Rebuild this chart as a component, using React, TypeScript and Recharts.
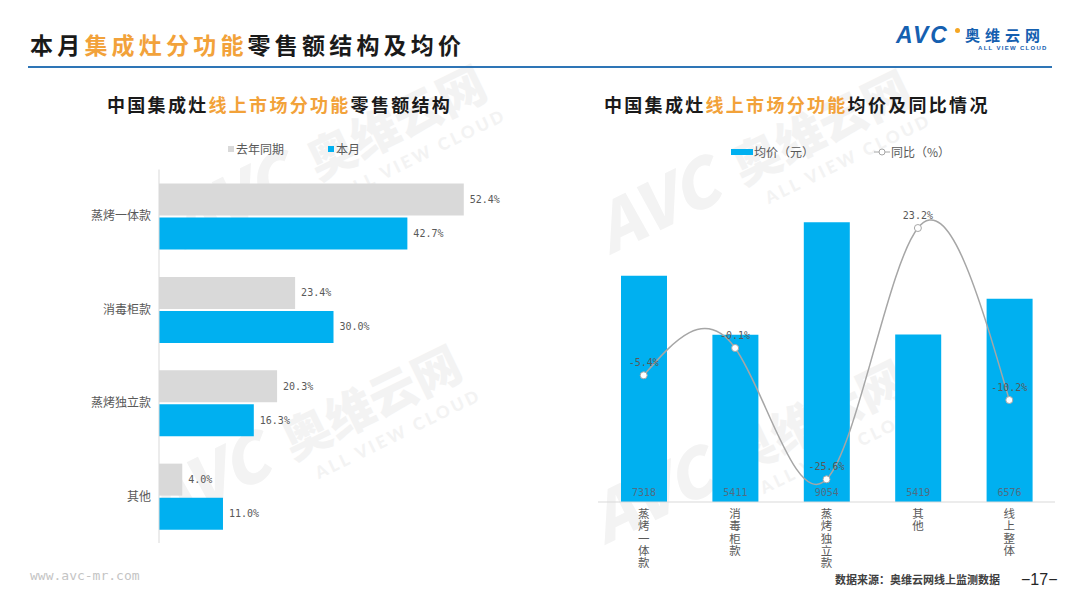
import React from 'react'
import {
  BarChart, Bar, XAxis, YAxis, LabelList, ComposedChart, Line,
} from 'recharts'

// 零售额结构（%）
const shareCategories = ['蒸烤一体款', '消毒柜款', '蒸烤独立款', '其他']
const lastYearShare = [52.4, 23.4, 20.3, 4.0]
const thisMonthShare = [42.7, 30.0, 16.3, 11.0]

// 均价（元）及同比（%）
const priceCategories = ['蒸烤一体款', '消毒柜款', '蒸烤独立款', '其他', '线上整体']
const avgPrice = [7318, 5411, 9054, 5419, 6576]
const yoyPct = [-5.4, -0.1, -25.6, 23.2, -10.2]

const BLUE = '#00b0f0'
const GREY = '#d9d9d9'
const ORANGE = '#f2a23a'
const TEXT = '#595959'
const CJK = '"Noto Sans CJK SC", "Noto Sans", sans-serif'
const MONO = '"DejaVu Sans Mono", "Liberation Mono", monospace'

const shareData = shareCategories.map((name, i) => ({
  name,
  lastYear: lastYearShare[i],
  thisMonth: thisMonthShare[i],
}))

const priceData = priceCategories.map((name, i) => ({
  name,
  price: avgPrice[i],
  yoy: yoyPct[i],
}))

const pct = (v: any) => `${Number(v).toFixed(1)}%`

// x轴标签竖排
function VerticalTick({ x, y, payload }: any) {
  return (
    <text
      x={x}
      y={y - 2}
      fill={TEXT}
      fontSize={11.5}
      fontFamily={CJK}
      letterSpacing={0.8}
      style={{ writingMode: 'vertical-rl' }}
    >
      {payload.value}
    </text>
  )
}

function Watermark({ x, y }: { x: number; y: number }) {
  return (
    <g transform={`translate(${x},${y}) rotate(-26)`} fill="#f3f3f3" fontFamily={CJK} fontWeight={900}>
      <text x={0} y={0} fontSize={66} fontStyle="italic">AVC</text>
      <text x={150} y={-4} fontSize={48}>奥维云网</text>
      <text x={165} y={24} fontSize={17} letterSpacing={3} fontFamily="Lato, sans-serif">ALL VIEW CLOUD</text>
    </g>
  )
}

export default function App() {
  return (
    <div style={{ position: 'absolute', left: 0, top: 0, width: 1080, height: 607, background: '#fff', overflow: 'hidden', fontFamily: CJK }}>
      {/* 水印 */}
      <svg width={1080} height={607} style={{ position: 'absolute', left: 0, top: 0 }}>
        <Watermark x={185} y={250} />
        <Watermark x={160} y={530} />
        <Watermark x={610} y={255} />
        <Watermark x={605} y={545} />
      </svg>

      {/* 页眉 */}
      <div style={{ position: 'absolute', left: 30, top: 33, fontSize: 23, fontWeight: 700, letterSpacing: 4.2, lineHeight: 1, color: '#1a1a1a', whiteSpace: 'nowrap' }}>
        本月<span style={{ color: ORANGE }}>集成灶分功能</span>零售额结构及均价
      </div>
      <div style={{ position: 'absolute', left: 28, top: 66, width: 1024, height: 2, background: '#2e75b6' }} />
      <div style={{ position: 'absolute', left: 896, top: 24, fontFamily: '"Liberation Sans", Arial, sans-serif', fontSize: 23, fontWeight: 900, fontStyle: 'italic', letterSpacing: 2, color: '#1560b0', lineHeight: 1, whiteSpace: 'nowrap' }}>
        AVC
      </div>
      <div style={{ position: 'absolute', left: 955, top: 28, width: 5, height: 5, borderRadius: 3, background: '#f5a623' }} />
      <div style={{ position: 'absolute', left: 965, top: 27, fontSize: 15, fontWeight: 700, letterSpacing: 5, color: '#1560b0', lineHeight: 1, whiteSpace: 'nowrap' }}>
        奥维云网
      </div>
      <div style={{ position: 'absolute', left: 978, top: 45, fontFamily: '"Liberation Sans", Arial, sans-serif', fontSize: 6, fontWeight: 700, letterSpacing: 1.3, color: '#1560b0', lineHeight: 1, whiteSpace: 'nowrap' }}>
        ALL VIEW CLOUD
      </div>

      {/* 左图 */}
      <div style={{ position: 'absolute', left: 107, top: 95, fontSize: 18, fontWeight: 700, letterSpacing: 2.3, lineHeight: 1, color: '#1a1a1a', whiteSpace: 'nowrap' }}>
        中国集成灶<span style={{ color: ORANGE }}>线上市场分功能</span>零售额结构
      </div>
      <div style={{ position: 'absolute', left: 228, top: 141, fontSize: 12, color: TEXT, lineHeight: '16px', whiteSpace: 'nowrap', display: 'flex', alignItems: 'center' }}>
        <span style={{ width: 6, height: 6, background: GREY, display: 'inline-block', marginRight: 2 }} />去年同期
        <span style={{ width: 6, height: 6, background: BLUE, display: 'inline-block', marginLeft: 44, marginRight: 2 }} />本月
      </div>
      <div style={{ position: 'absolute', left: 0, top: 160 }}>
        <BarChart
          layout="vertical"
          width={540}
          height={400}
          data={shareData}
          margin={{ top: 9.5, right: 32, bottom: 17, left: 0 }}
          barSize={32}
          barGap={2}
        >
          <XAxis type="number" domain={[0, 60]} hide />
          <YAxis
            type="category"
            dataKey="name"
            width={159}
            axisLine={{ stroke: GREY }}
            tickLine={false}
            tickMargin={2}
            tick={{ fontSize: 12, fill: TEXT, fontFamily: CJK }}
          />
          <Bar dataKey="lastYear" fill={GREY} isAnimationActive={false}>
            <LabelList dataKey="lastYear" position="right" offset={6} formatter={pct}
              style={{ fontSize: 10, fill: TEXT, fontFamily: MONO }} />
          </Bar>
          <Bar dataKey="thisMonth" fill={BLUE} isAnimationActive={false}>
            <LabelList dataKey="thisMonth" position="right" offset={6} formatter={pct}
              style={{ fontSize: 10, fill: TEXT, fontFamily: MONO }} />
          </Bar>
        </BarChart>
      </div>

      {/* 右图 */}
      <div style={{ position: 'absolute', left: 604, top: 95, fontSize: 18, fontWeight: 700, letterSpacing: 2.3, lineHeight: 1, color: '#1a1a1a', whiteSpace: 'nowrap' }}>
        中国集成灶<span style={{ color: ORANGE }}>线上市场分功能</span>均价及同比情况
      </div>
      <div style={{ position: 'absolute', left: 731, top: 144, fontSize: 12, color: TEXT, lineHeight: '16px', whiteSpace: 'nowrap', display: 'flex', alignItems: 'center' }}>
        <span style={{ width: 22, height: 6, background: BLUE, display: 'inline-block', marginRight: 1 }} />均价（元）
        <svg width={16} height={8} style={{ marginLeft: 60, marginRight: 1 }}>
          <line x1={0} y1={4} x2={16} y2={4} stroke="#a6a6a6" strokeWidth={1} />
          <circle cx={8} cy={4} r={3} fill="#fff" stroke="#a6a6a6" strokeWidth={1} />
        </svg>
        同比（%）
      </div>
      <div style={{ position: 'absolute', left: 560, top: 170 }}>
        <ComposedChart
          width={510}
          height={430}
          data={priceData}
          margin={{ top: 23, right: 15, bottom: 0, left: 38 }}
        >
          <XAxis
            dataKey="name"
            height={98}
            interval={0}
            axisLine={{ stroke: GREY }}
            tickLine={false}
            tick={<VerticalTick />}
          />
          <YAxis yAxisId="price" domain={[0, 10000]} hide />
          <YAxis yAxisId="yoy" orientation="right" domain={[-30, 30]} hide />
          <Bar yAxisId="price" dataKey="price" fill={BLUE} barSize={46} isAnimationActive={false}>
            <LabelList dataKey="price" position="insideBottom" offset={6}
              style={{ fontSize: 10, fill: '#4f6d84', fontFamily: MONO }} />
          </Bar>
          <Line
            yAxisId="yoy"
            type="natural"
            dataKey="yoy"
            stroke="#a6a6a6"
            strokeWidth={1.5}
            dot={{ r: 3.5, fill: '#fff', stroke: '#a6a6a6', strokeWidth: 1 }}
            isAnimationActive={false}
          >
            <LabelList dataKey="yoy" position="top" offset={9} formatter={pct}
              style={{ fontSize: 10, fill: TEXT, fontFamily: MONO }} />
          </Line>
        </ComposedChart>
      </div>

      {/* 页脚 */}
      <div style={{ position: 'absolute', left: 30, top: 569, fontFamily: MONO, fontSize: 13, color: '#c4c4c4', lineHeight: 1, whiteSpace: 'nowrap' }}>
        www.avc-mr.com
      </div>
      <div style={{ position: 'absolute', left: 835, top: 574, fontSize: 11, fontWeight: 700, color: '#404040', lineHeight: 1, whiteSpace: 'nowrap' }}>
        数据来源：奥维云网线上监测数据
      </div>
      <div style={{ position: 'absolute', left: 1021, top: 572, fontFamily: '"Liberation Sans", Arial, sans-serif', fontSize: 16, color: '#262626', lineHeight: 1, whiteSpace: 'nowrap' }}>
        −17−
      </div>
    </div>
  )
}
